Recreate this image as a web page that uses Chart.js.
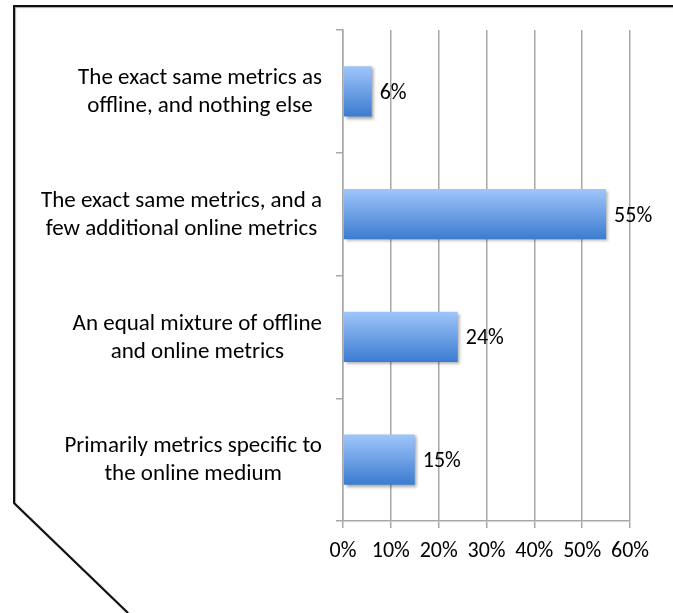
<!DOCTYPE html>
<html>
<head>
<meta charset="utf-8">
<script src="https://cdn.jsdelivr.net/npm/chart.js@4.4.1/dist/chart.umd.min.js"></script>
<style>
  html, body { margin: 0; padding: 0; background: #fff; }
  #wrap { width: 673px; height: 613px; position: relative; }
</style>
</head>
<body>
<div id="wrap"><canvas id="metricsChart" width="673" height="613"></canvas></div>
<script>
// Survey answers, top to bottom
const categories = [
    ['The exact same metrics as', 'offline, and nothing else'],
    ['The exact same metrics, and a', 'few additional online metrics'],
    ['An equal mixture of offline', 'and online metrics'],
    ['Primarily metrics specific to', 'the online medium']
];
const shares = [6, 55, 24, 15];
const axisTicks = [0, 10, 20, 30, 40, 50, 60];

const FONT = 'Carlito, Lato, sans-serif';
const LABEL_SIZE = 23;
const NUM_SIZE = 22;
const GRID = '#a8a8a8';
const BAR_PCT = 0.41;

// Vertical gradient per bar, light on top, darker at the bottom
function barGradient(ctx) {
    const chart = ctx.chart;
    const yScale = chart.scales.y;
    if (!yScale || !chart.chartArea) return '#5f95dc';
    const yc = yScale.getPixelForValue(ctx.dataIndex);
    const half = (yScale.height / categories.length) * BAR_PCT / 2;
    const g = chart.ctx.createLinearGradient(0, yc - half, 0, yc + half);
    g.addColorStop(0, '#a0c6fb');
    g.addColorStop(1, '#3b7bd0');
    return g;
}

// Outline around the chart with the clipped bottom-left corner
const framePlugin = {
    id: 'frame',
    beforeDraw(chart) {
        const c = chart.ctx;
        c.save();
        c.strokeStyle = '#111';
        c.lineWidth = 2;
        c.shadowColor = 'rgba(0,0,0,0.35)';
        c.shadowOffsetX = 1;
        c.shadowOffsetY = 1;
        c.shadowBlur = 1;
        c.beginPath();
        c.moveTo(chart.width, 6);
        c.lineTo(14, 6);
        c.lineTo(14, 503);
        c.lineTo(128, chart.height);
        c.stroke();
        c.restore();
    }
};

// Category labels: each block right aligned, lines centred inside it
const categoryLabels = {
    id: 'categoryLabels',
    afterDraw(chart) {
        const c = chart.ctx;
        const yScale = chart.scales.y;
        const right = chart.chartArea.left - 21;
        const lineGap = 28;
        c.save();
        c.font = LABEL_SIZE + 'px ' + FONT;
        c.fillStyle = '#000';
        c.textAlign = 'center';
        c.textBaseline = 'middle';
        categories.forEach((lines, i) => {
            const y = yScale.getPixelForValue(i) + 1;
            const widest = Math.max(...lines.map(l => c.measureText(l).width));
            const cx = right - widest / 2;
            const top = y - (lines.length - 1) * lineGap / 2;
            lines.forEach((l, j) => c.fillText(l, cx, top + j * lineGap));
        });
        c.restore();
    }
};

// Percentage next to the end of each bar
const valueLabels = {
    id: 'valueLabels',
    afterDatasetsDraw(chart) {
        const c = chart.ctx;
        const meta = chart.getDatasetMeta(0);
        c.save();
        c.font = NUM_SIZE + 'px ' + FONT;
        c.fillStyle = '#000';
        c.textAlign = 'left';
        c.textBaseline = 'middle';
        meta.data.forEach((bar, i) => {
            c.fillText(shares[i] + '%', bar.x + 8, bar.y + 2);
        });
        c.restore();
    }
};

// Soft drop shadow under the bars
const barShadow = {
    id: 'barShadow',
    beforeDatasetsDraw(chart) {
        const c = chart.ctx;
        c.save();
        c.shadowColor = 'rgba(0,0,0,0.35)';
        c.shadowBlur = 3;
        c.shadowOffsetX = 2;
        c.shadowOffsetY = 2;
    },
    afterDatasetsDraw(chart) {
        chart.ctx.restore();
    }
};

new Chart(document.getElementById('metricsChart'), {
    type: 'bar',
    data: {
        labels: categories,
        datasets: [{
            data: shares,
            backgroundColor: barGradient,
            borderWidth: 0,
            barPercentage: BAR_PCT,
            categoryPercentage: 1
        }]
    },
    options: {
        indexAxis: 'y',
        responsive: false,
        animation: false,
        layout: { padding: { top: 30, right: 43, left: 0, bottom: 0 } },
        plugins: {
            legend: { display: false },
            tooltip: { enabled: false }
        },
        scales: {
            x: {
                min: axisTicks[0],
                max: axisTicks[axisTicks.length - 1],
                afterBuildTicks(scale) {
                    scale.ticks = axisTicks.map(v => ({ value: v }));
                },
                afterFit(scale) { scale.height = 92; },
                grid: { color: GRID, lineWidth: 1.5, tickLength: 7 },
                border: { color: GRID, width: 1.5 },
                ticks: {
                    padding: 10,
                    color: '#000',
                    font: { family: FONT, size: NUM_SIZE },
                    callback: v => v + '%'
                }
            },
            y: {
                type: 'category',
                afterFit(scale) { scale.width = 343; },
                grid: {
                    offset: true,
                    drawOnChartArea: false,
                    color: GRID,
                    lineWidth: 1.5,
                    tickLength: 7
                },
                border: { color: GRID, width: 1.5 },
                ticks: { display: false }
            }
        }
    },
    plugins: [framePlugin, barShadow, valueLabels, categoryLabels]
});
</script>
</body>
</html>
